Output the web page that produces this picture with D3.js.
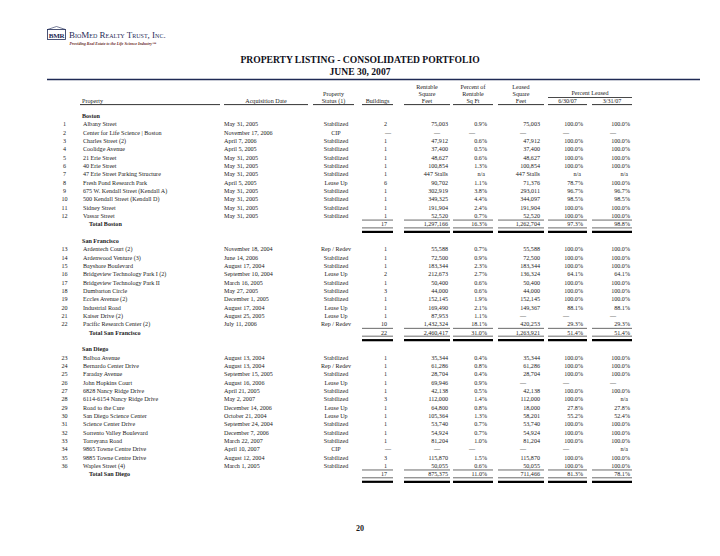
<!DOCTYPE html>
<html><head><meta charset="utf-8">
<script src="https://cdn.jsdelivr.net/npm/d3@7"></script>
<style>
html,body{margin:0;padding:0;background:#fff;}
svg{display:block;}
text{font-family:"Liberation Serif","Times New Roman",serif;}
</style></head>
<body>
<svg id="chart" width="720" height="556"></svg>
<script>
// ---------- DATA ----------
const regionNames = ["Boston", "San Francisco", "San Diego"];
const regionCounts = [12, 10, 14];

const propertyNames = [
  "Albany Street", "Center for Life Science | Boston", "Charles Street (2)", "Coolidge Avenue",
  "21 Erie Street", "40 Erie Street", "47 Erie Street Parking Structure", "Fresh Pond Research Park",
  "675 W. Kendall Street (Kendall A)", "500 Kendall Street (Kendall D)", "Sidney Street", "Vassar Street",
  "Ardentech Court (2)", "Ardenwood Venture (3)", "Bayshore Boulevard", "Bridgeview Technology Park I (2)",
  "Bridgeview Technology Park II", "Dumbarton Circle", "Eccles Avenue (2)", "Industrial Road",
  "Kaiser Drive (2)", "Pacific Research Center (2)",
  "Balboa Avenue", "Bernardo Center Drive", "Faraday Avenue", "John Hopkins Court",
  "6828 Nancy Ridge Drive", "6114-6154 Nancy Ridge Drive", "Road to the Cure", "San Diego Science Center",
  "Science Center Drive", "Sorrento Valley Boulevard", "Torreyana Road", "9865 Towne Centre Drive",
  "9885 Towne Centre Drive", "Waples Street (4)"
];
const acquisitionDates = [
  "May 31, 2005", "November 17, 2006", "April 7, 2006", "April 5, 2005", "May 31, 2005", "May 31, 2005",
  "May 31, 2005", "April 5, 2005", "May 31, 2005", "May 31, 2005", "May 31, 2005", "May 31, 2005",
  "November 18, 2004", "June 14, 2006", "August 17, 2004", "September 10, 2004", "March 16, 2005",
  "May 27, 2005", "December 1, 2005", "August 17, 2004", "August 25, 2005", "July 11, 2006",
  "August 13, 2004", "August 13, 2004", "September 15, 2005", "August 16, 2006", "April 21, 2005",
  "May 2, 2007", "December 14, 2006", "October 21, 2004", "September 24, 2004", "December 7, 2006",
  "March 22, 2007", "April 10, 2007", "August 12, 2004", "March 1, 2005"
];
const propertyStatus = [
  "Stabilized", "CIP", "Stabilized", "Stabilized", "Stabilized", "Stabilized", "Stabilized", "Lease Up",
  "Stabilized", "Stabilized", "Stabilized", "Stabilized",
  "Rep / Redev", "Stabilized", "Stabilized", "Lease Up", "Stabilized", "Stabilized", "Stabilized",
  "Lease Up", "Lease Up", "Rep / Redev",
  "Stabilized", "Rep / Redev", "Stabilized", "Lease Up", "Stabilized", "Stabilized", "Lease Up",
  "Lease Up", "Stabilized", "Stabilized", "Stabilized", "CIP", "Stabilized", "Stabilized"
];
const buildings = [2, null, 1, 1, 1, 1, 1, 6, 1, 1, 1, 1,
  1, 1, 1, 2, 1, 3, 1, 1, 1, 10,
  1, 1, 1, 1, 1, 3, 1, 1, 1, 1, 1, null, 3, 1];
const rentableSqFt = [75003, null, 47912, 37400, 48627, 100854, "447 Stalls", 90702, 302919, 349325, 191904, 52520,
  55588, 72500, 183344, 212673, 50400, 44000, 152145, 169490, 87953, 1432324,
  35344, 61286, 28704, 69946, 42138, 112000, 64800, 105364, 53740, 54924, 81204, null, 115870, 50055];
const pctRentable = [0.9, null, 0.6, 0.5, 0.6, 1.3, "n/a", 1.1, 3.8, 4.4, 2.4, 0.7,
  0.7, 0.9, 2.3, 2.7, 0.6, 0.6, 1.9, 2.1, 1.1, 18.1,
  0.4, 0.8, 0.4, 0.9, 0.5, 1.4, 0.8, 1.3, 0.7, 0.7, 1.0, null, 1.5, 0.6];
const leasedSqFt = [75003, null, 47912, 37400, 48627, 100854, "447 Stalls", 71376, 293011, 344097, 191904, 52520,
  55588, 72500, 183344, 136324, 50400, 44000, 152145, 149367, null, 420253,
  35344, 61286, 28704, null, 42138, 112000, 18000, 58201, 53740, 54924, 81204, null, 115870, 50055];
const pctLeasedJun07 = [100.0, null, 100.0, 100.0, 100.0, 100.0, "n/a", 78.7, 96.7, 98.5, 100.0, 100.0,
  100.0, 100.0, 100.0, 64.1, 100.0, 100.0, 100.0, 88.1, null, 29.3,
  100.0, 100.0, 100.0, null, 100.0, 100.0, 27.8, 55.2, 100.0, 100.0, 100.0, null, 100.0, 100.0];
const pctLeasedMar07 = [100.0, null, 100.0, 100.0, 100.0, 100.0, "n/a", 100.0, 96.7, 98.5, 100.0, 100.0,
  100.0, 100.0, 100.0, 64.1, 100.0, 100.0, 100.0, 88.1, null, 29.3,
  100.0, 100.0, 100.0, null, 100.0, "n/a", 27.8, 52.4, 100.0, 100.0, 100.0, "n/a", 100.0, 100.0];

const totalBuildings = [17, 22, 17];
const totalRentable = [1297166, 2460417, 875375];
const totalPctRentable = [16.3, 31.0, 11.0];
const totalLeased = [1262704, 1263921, 711466];
const totalJun07 = [97.3, 51.4, 81.3];
const totalMar07 = [98.8, 51.4, 78.1];

const titleLines = ["PROPERTY LISTING - CONSOLIDATED PORTFOLIO", "JUNE 30, 2007"];
const headerRow1 = ["", "", "", "", "Rentable", "Percent of", "Leased", "", ""];
const headerRow2 = ["", "", "Property", "", "Square", "Rentable", "Square", "", ""];
const headerRow3 = ["Property", "Acquisition Date", "Status (1)", "Buildings", "Feet", "Sq Ft", "Feet", "6/30/07", "3/31/07"];
const groupHeader = "Percent Leased";
const companyName = "BioMed Realty Trust, Inc.";
const tagline = "Providing Real Estate to the Life Science Industry\u2122";
const pageNumber = "20";

// ---------- LAYOUT ----------
const svg = d3.select("#chart");
const ink = "#1a1a1a";
const navy = "#1f2a55";
const fs = 6.1;

const fmtInt = d3.format(",");
const fmtPct = v => d3.format(".1f")(v) + "%";
const fmtCell = (v, f) => v === null ? "\u2014" : (typeof v === "number" ? f(v) : v);

const headCols = [
  {x0: 80, x1: 220, anchor: "start", tx: 82},
  {x0: 224, x1: 308, anchor: "middle"},
  {x0: 313, x1: 354, anchor: "middle"},
  {x0: 362, x1: 393, anchor: "middle"},
  {x0: 404, x1: 450, anchor: "middle"},
  {x0: 453, x1: 493, anchor: "middle"},
  {x0: 498, x1: 544, anchor: "middle"},
  {x0: 548, x1: 587, anchor: "middle"},
  {x0: 592, x1: 632, anchor: "middle"}
];
const numCols = [
  {vals: buildings, tot: totalBuildings, f: fmtInt, right: 387, dash: 388, h: 3},
  {vals: rentableSqFt, tot: totalRentable, f: fmtInt, right: 448, dash: 437, h: 4},
  {vals: pctRentable, tot: totalPctRentable, f: fmtPct, right: 487, dash: 472, h: 5},
  {vals: leasedSqFt, tot: totalLeased, f: fmtInt, right: 540, dash: 523, h: 6},
  {vals: pctLeasedJun07, tot: totalJun07, f: fmtPct, right: 583, dash: 566, h: 7},
  {vals: pctLeasedMar07, tot: totalMar07, f: fmtPct, right: 630, dash: 613, h: 8}
];

// ---------- LOGO ----------
const logo = svg.append("g");
logo.append("rect").attr("x", 47.5).attr("y", 29.5).attr("width", 18).attr("height", 10)
  .attr("fill", "#fff").attr("stroke", navy).attr("stroke-width", 0.8);
logo.append("path").attr("d", "M47.5,29.5 L56.5,26.5 L65.5,29.5").attr("fill", "none").attr("stroke", navy).attr("stroke-width", 0.6);
logo.append("text").attr("x", 56.5).attr("y", 37.6).attr("text-anchor", "middle")
  .attr("font-size", 7).attr("font-weight", "bold").attr("fill", navy).attr("letter-spacing", -0.3).text("BMR");
logo.append("text").attr("x", 69).attr("y", 38).attr("font-size", 9).attr("fill", navy)
  .style("font-variant", "small-caps").text(companyName);
logo.append("text").attr("x", 69.5).attr("y", 44.5).attr("font-size", 4).attr("fill", "#6b1e1e")
  .attr("font-style", "italic").attr("font-weight", "bold").text(tagline);

// ---------- TITLE ----------
svg.selectAll("text.title").data(titleLines).join("text").attr("class", "title")
  .attr("x", 360).attr("y", (d, i) => 63 + i * 12).attr("text-anchor", "middle")
  .attr("font-size", 9.6).attr("font-weight", "bold").attr("fill", "#101020").text(d => d);
svg.append("line").attr("x1", 47).attr("x2", 700).attr("y1", 79.5).attr("y2", 79.5)
  .attr("stroke", navy).attr("stroke-width", 1.4);

// ---------- HEADERS ----------
const hdrY = [88.5, 95.5, 102.5];
[headerRow1, headerRow2, headerRow3].forEach((row, r) => {
  svg.append("g").selectAll("text").data(row.map((t, i) => ({t, c: headCols[i]})).filter(d => d.t))
    .join("text")
    .attr("x", d => d.c.anchor === "start" ? d.c.tx : (d.c.x0 + d.c.x1) / 2)
    .attr("y", hdrY[r]).attr("text-anchor", d => d.c.anchor)
    .attr("font-size", fs).attr("fill", ink).text(d => d.t);
});
svg.append("text").attr("x", 590).attr("y", hdrY[1] - 0.5).attr("text-anchor", "middle")
  .attr("font-size", fs).attr("fill", ink).text(groupHeader);
svg.append("line").attr("x1", 548).attr("x2", 632).attr("y1", 97.5).attr("y2", 97.5)
  .attr("stroke", ink).attr("stroke-width", 0.8);
svg.append("g").selectAll("line").data(headCols).join("line")
  .attr("x1", d => d.x0).attr("x2", d => d.x1).attr("y1", 104.6).attr("y2", 104.6)
  .attr("stroke", "#333").attr("stroke-width", 1);

// ---------- BODY ----------
const lines = [];
let p = 0;
regionNames.forEach((rn, ri) => {
  lines.push({type: "region", label: rn});
  for (let k = 0; k < regionCounts[ri]; k++) { lines.push({type: "prop", idx: p, last: k === regionCounts[ri] - 1}); p++; }
  lines.push({type: "total", label: "Total " + rn, ri});
  if (ri < regionNames.length - 1) lines.push({type: "blank"});
});
const y = d3.scaleLinear().domain([0, lines.length - 1]).range([116, 474.2]);
const base = 2.1;
const body = svg.append("g").attr("font-size", fs).attr("fill", ink);

lines.forEach((ln, li) => {
  const yy = y(li) + base;
  if (ln.type === "region") {
    body.append("text").attr("x", 82).attr("y", yy).attr("font-weight", "bold").text(ln.label);
  } else if (ln.type === "prop") {
    const i = ln.idx;
    body.append("text").attr("x", 64.5).attr("y", yy).attr("text-anchor", "middle").text(i + 1);
    body.append("text").attr("x", 83).attr("y", yy).text(propertyNames[i]);
    body.append("text").attr("x", 224).attr("y", yy).text(acquisitionDates[i]);
    body.append("text").attr("x", 336).attr("y", yy).attr("text-anchor", "middle").text(propertyStatus[i]);
    numCols.forEach(c => {
      const v = c.vals[i];
      if (v === null) {
        body.append("text").attr("x", c.dash).attr("y", yy).attr("text-anchor", "middle").text("\u2014");
      } else if (v === "n/a") {
        body.append("text").attr("x", c.right - 2).attr("y", yy).attr("text-anchor", "end").text(v);
      } else {
        body.append("text").attr("x", c.right).attr("y", yy).attr("text-anchor", "end").text(fmtCell(v, c.f));
      }
    });
    if (ln.last) {
      numCols.forEach(c => {
        const hc = headCols[c.h];
        body.append("line").attr("x1", hc.x0).attr("x2", hc.x1)
          .attr("y1", y(li) + 4.1).attr("y2", y(li) + 4.1).attr("stroke", "#444").attr("stroke-width", 0.8);
      });
    }
  } else if (ln.type === "total") {
    body.append("text").attr("x", 89).attr("y", yy).attr("font-weight", "bold").text(ln.label);
    numCols.forEach(c => {
      body.append("text").attr("x", c.right).attr("y", yy).attr("text-anchor", "end").text(c.f(c.tot[ln.ri]));
      const hc = headCols[c.h];
      body.append("line").attr("x1", hc.x0).attr("x2", hc.x1)
        .attr("y1", y(li) + 3.6).attr("y2", y(li) + 3.6).attr("stroke", "#444").attr("stroke-width", 0.8);
      body.append("line").attr("x1", hc.x0).attr("x2", hc.x1)
        .attr("y1", y(li) + 7.6).attr("y2", y(li) + 7.6).attr("stroke", "#000").attr("stroke-width", 2.2);
    });
  }
});

// ---------- PAGE NUMBER ----------
svg.append("text").attr("x", 360).attr("y", 531).attr("text-anchor", "middle")
  .attr("font-size", 8).attr("font-weight", "bold").attr("fill", ink).text(pageNumber);
</script>
</body></html>
